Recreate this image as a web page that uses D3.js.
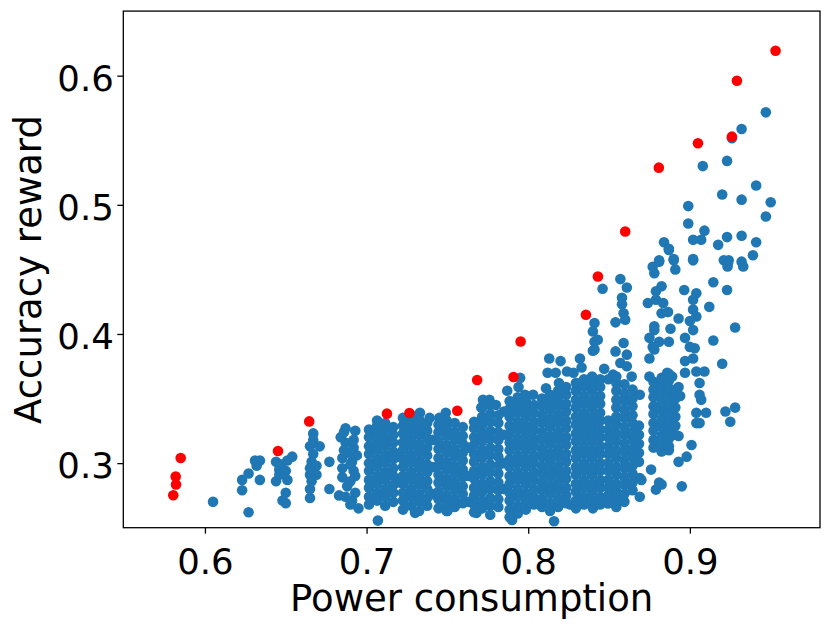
<!DOCTYPE html>
<html>
<head>
<meta charset="utf-8">
<script src="https://cdn.jsdelivr.net/npm/d3@7"></script>
<style>
  body { margin: 0; background: #fff; }
  text { font-family: "DejaVu Sans", sans-serif; }
</style>
</head>
<body>
<svg width="831" height="630"></svg>
<script>
// tick labels
var xTicks = [0.6, 0.7, 0.8, 0.9];
var yTicks = [0.3, 0.4, 0.5, 0.6];

// red points (pareto front)
var paretoPts = [
  [0.5804, 0.2751], [0.5821, 0.2834], [0.5819, 0.2896], [0.5850, 0.3040],
  [0.6452, 0.3094], [0.6645, 0.3323], [0.7126, 0.3383], [0.7265, 0.3388],
  [0.7561, 0.3406], [0.7684, 0.3644], [0.7909, 0.3667], [0.7953, 0.3942],
  [0.8357, 0.4149], [0.8431, 0.4445], [0.8600, 0.4793], [0.8808, 0.5288],
  [0.9050, 0.5477], [0.9260, 0.5528], [0.9291, 0.5961], [0.9530, 0.6193]
];

// blue points, scattered ones
var blueSparse = [
  [0.605,0.270],[0.627,0.262],[0.623,0.279],[0.623,0.287],[0.627,0.292],[0.631,0.302],[0.634,0.302],[0.632,0.298],[0.634,0.287],
  [0.644,0.301],[0.651,0.302],[0.654,0.305],[0.644,0.286],[0.651,0.287],[0.646,0.295],[0.650,0.277],[0.648,0.271],[0.650,0.269],[0.647,0.299],[0.646,0.291],[0.650,0.294],
  [0.667,0.323],[0.665,0.313],[0.671,0.313],[0.666,0.301],[0.669,0.291],[0.665,0.291],[0.665,0.280],[0.665,0.273],[0.667,0.307],[0.665,0.296],[0.666,0.286],[0.667,0.318],[0.669,0.298],
  [0.677,0.301],[0.677,0.280],[0.683,0.275],
  [0.687,0.327],[0.693,0.325],[0.684,0.320],[0.692,0.312],[0.685,0.304],[0.691,0.301],[0.685,0.296],[0.692,0.294],[0.690,0.286],[0.693,0.277],[0.691,0.271],[0.695,0.265],
  [0.686,0.324],[0.687,0.316],[0.689,0.308],[0.686,0.310],[0.690,0.299],[0.685,0.289],[0.688,0.282],[0.687,0.274],[0.692,0.318],[0.694,0.306],[0.693,0.290],[0.690,0.268],
  [0.707,0.2555],
  [0.719,0.285],[0.719,0.305],[0.741,0.276],[0.741,0.297],[0.741,0.318],[0.763,0.270],[0.763,0.290],[0.763,0.312],
  [0.785,0.280],[0.785,0.300],[0.785,0.322],[0.785,0.340],
  [0.787,0.356],[0.794,0.359],[0.795,0.366],[0.813,0.381],[0.820,0.379],[0.832,0.381],[0.840,0.387],[0.841,0.394],[0.812,0.370],[0.817,0.370],[0.824,0.371],[0.828,0.370],[0.833,0.374],
  [0.819,0.362],[0.830,0.362],[0.811,0.358],[0.803,0.353],[0.798,0.353],[0.772,0.349],[0.776,0.349],[0.780,0.345],[0.771,0.343],[0.749,0.339],[0.745,0.335],[0.739,0.335],[0.733,0.339],
  [0.816,0.255],[0.790,0.256],[0.768,0.2615],[0.750,0.263],[0.730,0.2615],[0.840,0.265],[0.828,0.268],[0.826,0.268],[0.849,0.269],[0.869,0.274],
  [0.846,0.435],[0.857,0.4425],[0.861,0.436],[0.858,0.428],[0.858,0.423],[0.859,0.416],[0.860,0.411],[0.854,0.409],[0.841,0.4085],[0.840,0.402],[0.843,0.3955],[0.841,0.388],
  [0.859,0.393],[0.854,0.3865],[0.861,0.384],[0.857,0.3775],[0.861,0.375],[0.847,0.373],[0.8525,0.3685],[0.864,0.367],[0.869,0.353],
  [0.877,0.452],[0.881,0.456],[0.878,0.447],[0.890,0.457],[0.891,0.450],[0.887,0.465],[0.902,0.457],
  [0.879,0.433],[0.8825,0.437],[0.874,0.424],[0.879,0.4265],[0.8835,0.424],[0.8825,0.416],[0.8865,0.417],[0.878,0.406],[0.878,0.403],[0.888,0.404],[0.875,0.397],[0.881,0.394],
  [0.887,0.394],[0.877,0.390],[0.878,0.388],[0.875,0.381],[0.875,0.367],[0.886,0.370],[0.889,0.367],[0.8825,0.363],[0.8845,0.359],[0.893,0.359],[0.894,0.352],[0.878,0.352],[0.886,0.354],
  [0.8965,0.434],[0.904,0.4315],[0.902,0.4265],[0.902,0.419],[0.904,0.4135],[0.893,0.412],[0.900,0.410],[0.902,0.403],[0.897,0.397],[0.900,0.390],[0.903,0.389],[0.902,0.381],
  [0.897,0.379],[0.897,0.370],[0.904,0.371],[0.909,0.371],[0.906,0.362],[0.906,0.353],[0.907,0.349],[0.904,0.339],[0.910,0.339],[0.904,0.331],[0.906,0.331],[0.901,0.314],[0.893,0.321],
  [0.9145,0.440],[0.923,0.434],[0.912,0.421],[0.928,0.405],[0.9145,0.395],[0.920,0.377],[0.928,0.343],[0.922,0.340],[0.925,0.332],[0.893,0.301],[0.898,0.305],[0.876,0.295],
  [0.869,0.2885],[0.881,0.285],[0.895,0.282],[0.887,0.310],[0.870,0.287],[0.8825,0.2834],[0.879,0.2795],
  [0.947,0.5716],[0.932,0.5587],[0.926,0.5515],[0.923,0.534],[0.908,0.530],[0.941,0.515],[0.920,0.508],[0.932,0.504],[0.950,0.502],[0.947,0.491],[0.899,0.499],[0.899,0.4855],
  [0.909,0.480],[0.884,0.471],[0.887,0.466],[0.902,0.473],[0.907,0.473],[0.9175,0.469],[0.923,0.475],[0.932,0.476],[0.941,0.471],[0.939,0.461],[0.881,0.457],[0.890,0.458],
  [0.902,0.458],[0.921,0.457],[0.924,0.457],[0.932,0.456],[0.9236,0.4549],[0.9233,0.4522],[0.933,0.4522]
];

// blue points, packed vertical bands: [x, [y, ...]]
var blueCols = [
  [0.7015,[0.268,0.274,0.281,0.287,0.294,0.300,0.307,0.313,0.320,0.326]],
  [0.7065,[0.271,0.277,0.284,0.290,0.297,0.303,0.310,0.316,0.323,0.329,0.333]],
  [0.7115,[0.267,0.274,0.280,0.287,0.293,0.300,0.306,0.313,0.319,0.326,0.331]],
  [0.7165,[0.270,0.277,0.283,0.290,0.296,0.303,0.309,0.316,0.322,0.328]],
  [0.7225,[0.264,0.271,0.277,0.284,0.290,0.297,0.303,0.310,0.316,0.323,0.329,0.335]],
  [0.7275,[0.267,0.274,0.280,0.287,0.293,0.300,0.306,0.313,0.319,0.326,0.332,0.337]],
  [0.7325,[0.263,0.270,0.276,0.283,0.289,0.296,0.302,0.309,0.315,0.322,0.328,0.334]],
  [0.7375,[0.267,0.273,0.280,0.286,0.293,0.299,0.306,0.312,0.319,0.325,0.331]],
  [0.7445,[0.265,0.272,0.278,0.285,0.291,0.298,0.304,0.311,0.317,0.324,0.330]],
  [0.7495,[0.263,0.269,0.275,0.282,0.288,0.295,0.301,0.308,0.314,0.321,0.327,0.333]],
  [0.7545,[0.266,0.272,0.279,0.285,0.292,0.298,0.305,0.311,0.318,0.324,0.331]],
  [0.7595,[0.269,0.276,0.282,0.289,0.295,0.302,0.308,0.315,0.321,0.328]],
  [0.7665,[0.262,0.268,0.275,0.281,0.288,0.294,0.301,0.307,0.314,0.320,0.327,0.332]],
  [0.7715,[0.265,0.271,0.278,0.284,0.291,0.297,0.304,0.310,0.317,0.323,0.330,0.336,0.343]],
  [0.7765,[0.260,0.267,0.273,0.280,0.286,0.293,0.299,0.306,0.312,0.319,0.325,0.332,0.338,0.345]],
  [0.7815,[0.266,0.272,0.279,0.285,0.292,0.298,0.305,0.311,0.318,0.324,0.331,0.337]],
  [0.7885,[0.258,0.264,0.271,0.277,0.284,0.290,0.297,0.303,0.310,0.316,0.323,0.329,0.336,0.342,0.348]],
  [0.7935,[0.261,0.267,0.274,0.280,0.287,0.293,0.300,0.306,0.313,0.319,0.326,0.332,0.339,0.345,0.351]],
  [0.7985,[0.264,0.271,0.277,0.284,0.290,0.297,0.303,0.310,0.316,0.323,0.329,0.336,0.342,0.348]],
  [0.8035,[0.268,0.274,0.280,0.287,0.293,0.300,0.306,0.313,0.319,0.326,0.332,0.339,0.345]],
  [0.8085,[0.266,0.272,0.279,0.285,0.292,0.298,0.305,0.311,0.318,0.324,0.331,0.337,0.344,0.350]],
  [0.8135,[0.263,0.269,0.276,0.282,0.289,0.295,0.302,0.308,0.315,0.321,0.328,0.334,0.341,0.347,0.353]],
  [0.8185,[0.266,0.272,0.279,0.285,0.292,0.298,0.305,0.311,0.318,0.324,0.331,0.337,0.344,0.350,0.356]],
  [0.8235,[0.269,0.275,0.281,0.288,0.294,0.301,0.307,0.314,0.320,0.327,0.333,0.340,0.346,0.353,0.359]],
  [0.8295,[0.265,0.271,0.278,0.284,0.291,0.297,0.304,0.310,0.317,0.323,0.330,0.336,0.343,0.349,0.356,0.362]],
  [0.8345,[0.268,0.274,0.281,0.287,0.294,0.300,0.307,0.313,0.320,0.326,0.333,0.339,0.346,0.352,0.359,0.365]],
  [0.8395,[0.271,0.278,0.284,0.291,0.297,0.304,0.310,0.317,0.323,0.330,0.336,0.343,0.349,0.356,0.362,0.367]],
  [0.8445,[0.268,0.274,0.281,0.287,0.294,0.300,0.307,0.313,0.320,0.326,0.333,0.339,0.346,0.352,0.359,0.365]],
  [0.8495,[0.269,0.275,0.281,0.287,0.294,0.300,0.307,0.313,0.320,0.326,0.333,0.365]],
  [0.8545,[0.266,0.272,0.278,0.284,0.291,0.297,0.304,0.310,0.317,0.323,0.330,0.336,0.343,0.349,0.356,0.362,0.367]],
  [0.8595,[0.270,0.276,0.283,0.289,0.296,0.302,0.309,0.315,0.322,0.328,0.335,0.341,0.348,0.354,0.361]],
  [0.8645,[0.279,0.285,0.292,0.298,0.305,0.311,0.318,0.324,0.331,0.337,0.344,0.350,0.357]],
  [0.8685,[0.301,0.308,0.315,0.322,0.329]],
  [0.8775,[0.312,0.318,0.325,0.331,0.338,0.344,0.351,0.357,0.363]],
  [0.8825,[0.309,0.315,0.321,0.328,0.334,0.341,0.347,0.354,0.360,0.366]],
  [0.8870,[0.313,0.319,0.326,0.332,0.339,0.345,0.352,0.358,0.364,0.369]],
  [0.8910,[0.322,0.329,0.336,0.343,0.350,0.357]]
];

var bluePts = blueSparse.slice();
blueCols.forEach(function(c) {
  c[1].forEach(function(v) { bluePts.push([c[0], v]); });
});

var svg = d3.select("svg");
var plotL = 123.3, plotR = 820, plotT = 11.1, plotB = 527.7;

var x = d3.scaleLinear().domain([0.5495, 0.9805]).range([plotL, plotR]);
var y = d3.scaleLinear().domain([0.25, 0.65]).range([plotB, plotT]);

var r = 5.3;

svg.append("g").selectAll("circle")
  .data(bluePts)
  .enter().append("circle")
  .attr("cx", function(d) { return x(d[0]); })
  .attr("cy", function(d) { return y(d[1]); })
  .attr("r", r)
  .attr("fill", "#1f77b4");

svg.append("g").selectAll("circle")
  .data(paretoPts)
  .enter().append("circle")
  .attr("cx", function(d) { return x(d[0]); })
  .attr("cy", function(d) { return y(d[1]); })
  .attr("r", r)
  .attr("fill", "#ff0000");

// frame
svg.append("rect")
  .attr("x", plotL).attr("y", plotT)
  .attr("width", plotR - plotL).attr("height", plotB - plotT)
  .attr("fill", "none").attr("stroke", "#000").attr("stroke-width", 1.3);

var xAxis = svg.append("g")
  .attr("transform", "translate(0," + plotB + ")")
  .call(d3.axisBottom(x).tickValues(xTicks).tickFormat(d3.format(".1f")).tickSize(6).tickSizeOuter(0));
var yAxis = svg.append("g")
  .attr("transform", "translate(" + plotL + ",0)")
  .call(d3.axisLeft(y).tickValues(yTicks).tickFormat(d3.format(".1f")).tickSize(6).tickSizeOuter(0));

[xAxis, yAxis].forEach(function(g) {
  g.select(".domain").remove();
  g.selectAll(".tick line").attr("stroke", "#000").attr("stroke-width", 1.3);
  g.selectAll(".tick text").attr("fill", "#000")
    .style("font-family", "DejaVu Sans").style("font-size", "35.5px");
});
xAxis.selectAll(".tick text").attr("dy", null).attr("y", 46.1);
yAxis.selectAll(".tick text").attr("dy", "0.41em").attr("x", -9.5);

svg.append("text")
  .attr("x", (plotL + plotR) / 2).attr("y", 610.5)
  .attr("text-anchor", "middle")
  .style("font-size", "37px")
  .text("Power consumption");

svg.append("text")
  .attr("transform", "translate(41,269.5) rotate(-90)")
  .attr("text-anchor", "middle")
  .style("font-size", "37px")
  .text("Accuracy reward");
</script>
</body>
</html>
